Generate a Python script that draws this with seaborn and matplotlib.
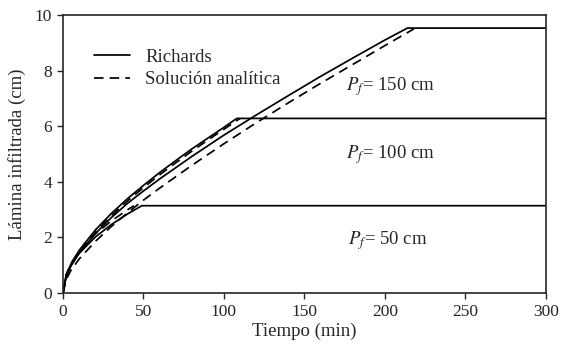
import numpy as np
import pandas as pd
import matplotlib
matplotlib.use('Agg')
import matplotlib.pyplot as plt
import seaborn as sns

# Infiltrated depth (cm) vs time (min)
t_r50 = [0, 2, 5, 10, 20, 30, 40, 49, 300]
i_r50 = [0, 0.64, 1.00, 1.42, 2.01, 2.46, 2.84, 3.14, 3.14]
t_a50 = [0, 2, 5, 10, 20, 30, 40, 44]
i_a50 = [0, 0.67, 1.06, 1.50, 2.12, 2.59, 2.99, 3.14]

t_r100 = [0, 2, 5, 10, 20, 30, 40, 50, 60, 70, 80, 90, 100, 108, 300]
i_r100 = [0, 0.64, 1.05, 1.53, 2.26, 2.86, 3.39, 3.87, 4.33, 4.76, 5.18, 5.57, 5.96, 6.28, 6.28]
t_a100 = [0, 2, 5, 10, 20, 30, 40, 50, 60, 70, 80, 90, 100, 110]
i_a100 = [0, 0.62, 1.01, 1.47, 2.19, 2.78, 3.31, 3.79, 4.25, 4.68, 5.10, 5.50, 5.89, 6.28]

t_r150 = [0, 2, 5, 10, 20, 30, 40, 50, 60, 80, 100, 120, 140, 160, 180, 200, 214, 300]
i_r150 = [0, 0.60, 0.98, 1.44, 2.13, 2.71, 3.22, 3.67, 4.10, 4.91, 5.68, 6.40, 7.10, 7.79, 8.45, 9.10, 9.53, 9.53]
t_a150 = [0, 2, 5, 10, 20, 30, 40, 50, 60, 80, 100, 120, 140, 160, 180, 200, 218]
i_a150 = [0, 0.49, 0.82, 1.22, 1.85, 2.39, 2.88, 3.34, 3.77, 4.59, 5.37, 6.12, 6.84, 7.54, 8.22, 8.90, 9.50]

metodos = ['Richards', 'Solución analítica']
pf_labels = ['$P_f$= 150 cm', '$P_f$= 100 cm', '$P_f$= 50 cm']
pf_label_pos = [(176, 7.42), (176, 4.97), (177, 1.9)]


def build_df():
    rows = []
    series = [
        ('Richards', 50, t_r50, i_r50), ('Solución analítica', 50, t_a50, i_a50),
        ('Richards', 100, t_r100, i_r100), ('Solución analítica', 100, t_a100, i_a100),
        ('Richards', 150, t_r150, i_r150), ('Solución analítica', 150, t_a150, i_a150),
    ]
    for met, pf, ts, vals in series:
        for t, v in zip(ts, vals):
            rows.append({'t': t, 'I': v, 'metodo': met, 'serie': f'{met}_{pf}'})
    return pd.DataFrame(rows)


df = build_df()

sns.set_style('ticks')
plt.rcParams['font.family'] = ['Liberation Serif', 'DejaVu Serif']
plt.rcParams['mathtext.fontset'] = 'stix'

fig = plt.figure(figsize=(5.61, 3.53), dpi=100)
ax = fig.add_axes([0.1123, 0.17, 0.8607, 0.7875])

sns.lineplot(data=df, x='t', y='I', style='metodo', units='serie', estimator=None,
             color='black', linewidth=1.25, sort=False,
             dashes={'Richards': '', 'Solución analítica': (5.5, 3.5)},
             style_order=metodos, ax=ax)

handles, labels = ax.get_legend_handles_labels()
ax.legend(handles, labels, loc='upper left', bbox_to_anchor=(0.03, 0.94),
          frameon=False, fontsize=13.5, handlelength=1.9, labelspacing=0.3,
          handletextpad=0.8)

for lab, (x, y) in zip(pf_labels, pf_label_pos):
    ax.text(x, y, lab, fontsize=13.5, ha='left', va='center')

ax.set_xlim(0, 300)
ax.set_ylim(0, 10)
ax.set_xticks(np.arange(0, 301, 50))
ax.set_yticks(np.arange(0, 11, 2))
ax.set_xlabel('Tiempo (min)', fontsize=13.5, labelpad=2)
ax.set_ylabel('Lámina infiltrada (cm)', fontsize=13.5, labelpad=6)
ax.tick_params(direction='out', length=4, width=1, labelsize=12.5, pad=4)
for s in ax.spines.values():
    s.set_visible(True)
    s.set_linewidth(1.2)

fig.savefig('out.png', dpi=100)
plt.close(fig)
